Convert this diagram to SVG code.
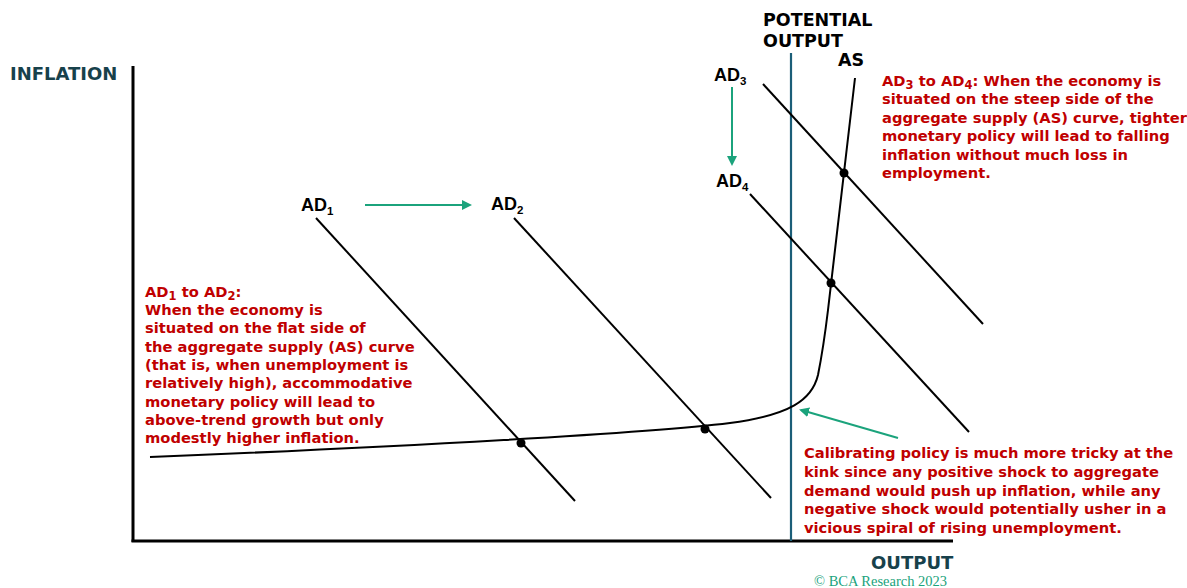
<svg xmlns="http://www.w3.org/2000/svg" width="1187" height="588" viewBox="0 0 1187 588">
<style>
.axis{stroke:#000;stroke-width:3;fill:none}
.ad{stroke:#000;stroke-width:2;fill:none}
.pot{stroke:#1b5e78;stroke-width:2.2;fill:none}
.garr{stroke:#1ba37c;stroke-width:2;fill:none}
.lbl{font-family:"DejaVu Sans","Liberation Sans",sans-serif;font-weight:bold;font-size:17.5px;fill:#000}
.adl{font-family:"Liberation Sans",Arial,sans-serif;font-weight:bold;font-size:18px;fill:#000}
.ax{font-family:"DejaVu Sans","Liberation Sans",sans-serif;font-weight:bold;font-size:18px;fill:#17414b}
.note{font-family:"DejaVu Sans","Liberation Sans",sans-serif;font-weight:bold;font-size:14.7px;fill:#c00000}
.sub{font-size:11.5px}
.copy{font-family:"Liberation Serif",serif;font-size:14.5px;fill:#1ba37c}
</style>
<defs>
<marker id="ga" markerWidth="10" markerHeight="10" refX="8" refY="5" orient="auto" markerUnits="userSpaceOnUse"><path d="M0,0 L10,5 L0,10 Z" fill="#1ba37c"/></marker>
</defs>
<g id="axes">
<line class="axis" x1="133" y1="66" x2="133" y2="542"/>
<line class="axis" x1="131.5" y1="541" x2="953" y2="541"/>
<text class="ax" x="10" y="80">INFLATION</text>
<text class="ax" x="871" y="569">OUTPUT</text>
</g>
<g id="potential-output">
<line class="pot" x1="791" y1="53" x2="791" y2="541"/>
<text class="lbl" x="763" y="26">POTENTIAL</text>
<text class="lbl" x="763" y="47">OUTPUT</text>
</g>
<g id="connectors">
<path id="as-curve" class="ad" d="M150,457 C400,447 650,433 730,423 C790,415 812,400 818,375 C822,355 825,335 828,310 L855,78"/>
<line id="ad1" class="ad" x1="316" y1="218" x2="575" y2="501"/>
<line id="ad2" class="ad" x1="514" y1="218" x2="771" y2="498"/>
<line id="ad3" class="ad" x1="763" y1="84" x2="983" y2="324"/>
<line id="ad4" class="ad" x1="750" y1="194" x2="969" y2="432"/>
<line class="garr" x1="365" y1="205" x2="470" y2="205" marker-end="url(#ga)"/>
<line class="garr" x1="732" y1="87" x2="732" y2="164" marker-end="url(#ga)"/>
<line class="garr" x1="898" y1="438" x2="801" y2="410" marker-end="url(#ga)"/>
</g>
<g id="dots">
<circle cx="521" cy="443" r="4.5"/>
<circle cx="705" cy="429" r="4.5"/>
<circle cx="831" cy="283" r="4.5"/>
<circle cx="844" cy="173" r="4.5"/>
</g>
<g id="labels">
<text class="adl" x="301" y="211">AD<tspan class="sub" dy="4">1</tspan></text>
<text class="adl" x="491" y="210">AD<tspan class="sub" dy="4">2</tspan></text>
<text class="adl" x="714" y="81">AD<tspan class="sub" dy="4">3</tspan></text>
<text class="adl" x="716" y="187">AD<tspan class="sub" dy="4">4</tspan></text>
<text class="lbl" x="838" y="66">AS</text>
</g>
<g id="note-right" class="note">
<text x="882" y="86">AD<tspan class="sub" dy="3">3</tspan><tspan dy="-3"> to AD</tspan><tspan class="sub" dy="3">4</tspan><tspan dy="-3">: When the economy is</tspan></text>
<text x="882" y="104">situated on the steep side of the</text>
<text x="882" y="123">aggregate supply (AS) curve, tighter</text>
<text x="882" y="141">monetary policy will lead to falling</text>
<text x="882" y="160">inflation without much loss in</text>
<text x="882" y="178">employment.</text>
</g>
<g id="note-left" class="note">
<text x="145" y="297">AD<tspan class="sub" dy="3">1</tspan><tspan dy="-3"> to AD</tspan><tspan class="sub" dy="3">2</tspan><tspan dy="-3">:</tspan></text>
<text x="145" y="315">When the economy is</text>
<text x="145" y="333">situated on the flat side of</text>
<text x="145" y="352">the aggregate supply (AS) curve</text>
<text x="145" y="370">(that is, when unemployment is</text>
<text x="145" y="388">relatively high), accommodative</text>
<text x="145" y="407">monetary policy will lead to</text>
<text x="145" y="425">above-trend growth but only</text>
<text x="145" y="443">modestly higher inflation.</text>
</g>
<g id="note-bottom" class="note">
<text x="804" y="458">Calibrating policy is much more tricky at the</text>
<text x="804" y="477">kink since any positive shock to aggregate</text>
<text x="804" y="496">demand would push up inflation, while any</text>
<text x="804" y="514">negative shock would potentially usher in a</text>
<text x="804" y="533">vicious spiral of rising unemployment.</text>
</g>
<text class="copy" x="814" y="586">© BCA Research 2023</text>
</svg>
